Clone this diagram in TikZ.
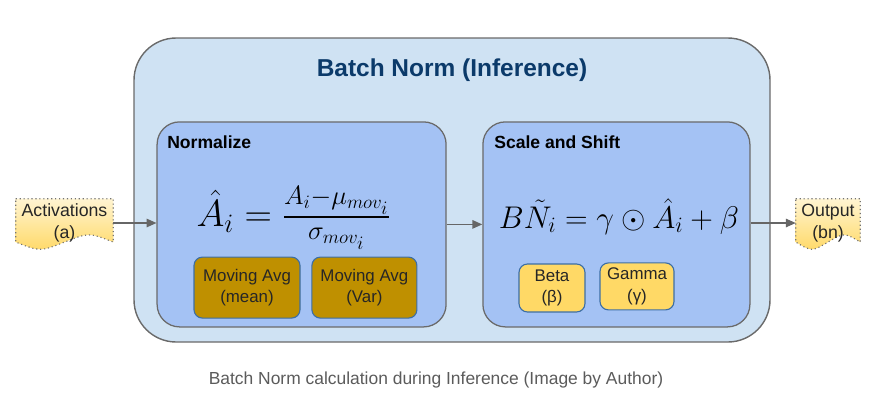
\documentclass[tikz,border=0pt]{standalone}
\usepackage[no-math]{fontspec}
\setmainfont{Liberation Sans}
\usepackage{amsmath}
\usepackage{fix-cm}
\usetikzlibrary{positioning,arrows.meta,calc,backgrounds}
\definecolor{paleblue}{HTML}{CFE2F3}
\definecolor{midblue}{HTML}{A4C2F4}
\definecolor{gold}{HTML}{BF9000}
\definecolor{lightgold}{HTML}{FFD966}
\definecolor{cream}{HTML}{FFF4D2}
\definecolor{navy}{HTML}{0B3A6A}
\definecolor{edge}{HTML}{6A6A6A}
\definecolor{trim}{HTML}{3C6EA5}
\definecolor{capgray}{HTML}{5B5B5B}
\tikzset{
  outer/.style={draw=edge, line width=1pt, rounded corners=30pt, fill=paleblue},
  stage/.style={draw=edge, line width=0.9pt, rounded corners=16pt, fill=midblue},
  avgbox/.style={draw=trim, line width=0.8pt, rounded corners=6pt, fill=gold,
    align=center, inner sep=2pt, text=black!85},
  parbox/.style={draw=trim, line width=0.8pt, rounded corners=6pt, fill=lightgold,
    align=center, inner sep=2pt, text=black!85},
  doc/.style={align=center, inner sep=0pt, minimum height=1.2cm, text=black!85,
    font=\fontsize{12.6}{15.5}\selectfont},
  docedge/.style={draw=black!55, dotted, line width=0.8pt, top color=cream, bottom color=lightgold},
  head/.style={font=\bfseries\fontsize{12.5}{14}\selectfont, anchor=base west, inner sep=0pt},
  arr/.style={-{Triangle[length=7pt,width=6pt]}, line width=1pt, color=black!60},
}

\begin{document}
\begin{tikzpicture}[font=\fontsize{12}{15.5}\selectfont]
  \useasboundingbox (0,0) rectangle (22,10.35);
  % frame and the two stages
  \node[outer, minimum width=15.9cm, minimum height=7.6cm] (bn) at (11.3,5.6) {};
  \node[font=\bfseries\fontsize{17.4}{20}\selectfont, text=navy] (title) at (11.3,8.6) {Batch Norm (Inference)};
  \node[stage, minimum width=7.225cm, minimum height=5.125cm] (norm) at (7.54,4.74) {};
  \node[stage, minimum width=6.675cm, minimum height=5.125cm] (scale) at (15.41,4.74) {};
  \node[head] (normlab) at (4.175,6.65) {Normalize};
  \node[head] (scalelab) at (12.35,6.65) {Scale and Shift};
  \node[font=\fontsize{27}{30}\selectfont, inner sep=0pt] (eqnorm) at (7.34,4.9)
    {$\hat{A}_i = \frac{A_i - \mu_{mov_i}}{\sigma_{mov_i}}$};
  \node[font=\fontsize{22.3}{26}\selectfont, inner sep=0pt, anchor=base] (eqscale) at (15.475,4.65)
    {$B\tilde{N}_i = \gamma \odot \hat{A}_i + \beta$};
  \node[avgbox, minimum width=2.65cm, minimum height=1.525cm] (mean) at (6.175,3.16) {Moving Avg\\(mean)};
  \node[avgbox, minimum width=2.625cm, minimum height=1.525cm] (var) at (9.11,3.16) {Moving Avg\\(Var)};
  \node[parbox, minimum width=1.65cm, minimum height=1.2cm] (beta) at (13.8,3.15) {Beta\\(β)};
  \node[parbox, minimum width=1.85cm, minimum height=1.175cm] (gamma) at (15.925,3.19) {Gamma\\(γ)};
  % input and output
  \node[doc, minimum width=2.425cm] (act) at (1.6125,4.775) {Activations\\(a)};
  \node[doc, minimum width=1.6cm] (out) at (20.7,4.775) {Output\\(bn)};
  \begin{scope}[on background layer]
    \foreach \n in {act,out}
      \draw[docedge] (\n.north west) -- (\n.north east) -- ($(\n.south east)+(0,0.13)$)
        .. controls ($(\n.south east)!0.5!(\n.south)+(0,0.37)$) .. ($(\n.south)+(0,0.13)$)
        .. controls ($(\n.south)!0.5!(\n.south west)+(0,-0.11)$) .. ($(\n.south west)+(0,0.13)$) -- cycle;
  \end{scope}
  \draw[arr] (act.east) -- (act.east -| norm.west);
  \draw[arr] (norm) -- (scale);
  \draw[arr] (scale.east |- out.west) -- (out.west);
  \node[font=\fontsize{12.4}{15}\selectfont, text=capgray] (cap) at (10.9,0.85) {Batch Norm calculation during Inference (Image by Author)};
\end{tikzpicture}
\end{document}
